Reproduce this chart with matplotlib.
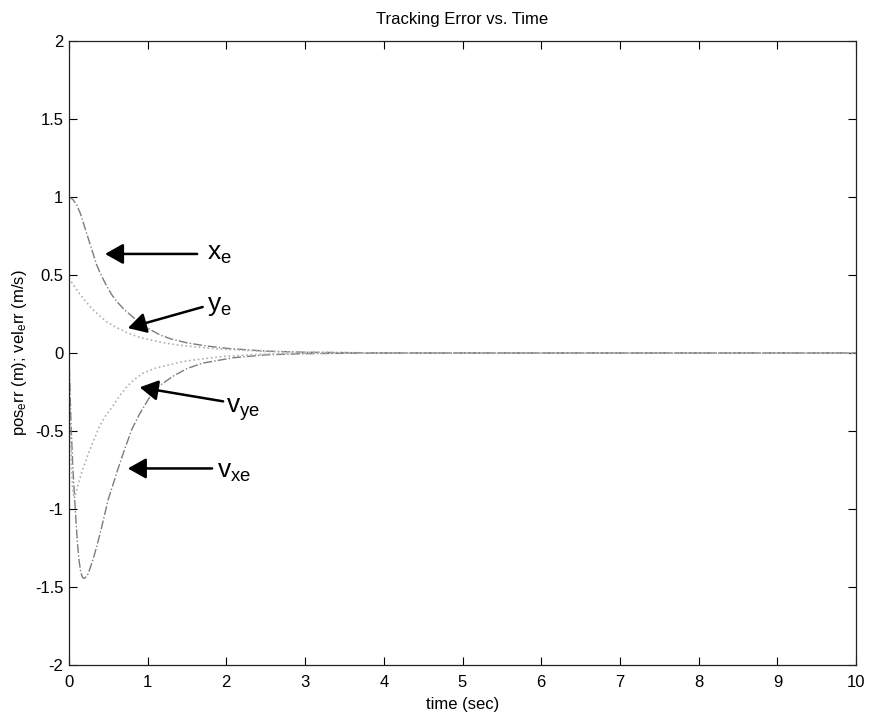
import numpy as np
import matplotlib
matplotlib.use("Agg")
import matplotlib.pyplot as plt

plt.rcParams['font.family'] = ['Liberation Sans', 'DejaVu Sans']
plt.rcParams['mathtext.fontset'] = 'custom'
plt.rcParams['mathtext.rm'] = 'Liberation Sans'
plt.rcParams['mathtext.it'] = 'Liberation Sans:italic'

# position errors (m)
t_xe = [0, 0.05, 0.10, 0.15, 0.20, 0.25, 0.30, 0.35, 0.40, 0.48, 0.55, 0.61, 0.70, 0.86,
        1.0, 1.16, 1.3, 1.5, 1.75, 2.0, 2.5, 3.0, 4.0, 10.0]
xe = [1.0, 0.985, 0.95, 0.89, 0.81, 0.73, 0.65, 0.57, 0.51, 0.43, 0.37, 0.33, 0.28, 0.21,
      0.16, 0.115, 0.09, 0.065, 0.045, 0.03, 0.012, 0.005, 0.0, 0.0]

t_ye = [0, 0.04, 0.10, 0.15, 0.20, 0.30, 0.40, 0.48, 0.60, 0.74, 0.90, 1.16, 1.4, 1.8,
        2.5, 3.0, 4.0, 10.0]
ye = [0.48, 0.45, 0.405, 0.37, 0.34, 0.28, 0.235, 0.20, 0.165, 0.13, 0.10, 0.07, 0.05, 0.03,
      0.01, 0.005, 0.0, 0.0]

# velocity errors (m/s)
t_vxe = [0, 0.01, 0.03, 0.05, 0.07, 0.09, 0.11, 0.13, 0.15, 0.17, 0.19, 0.21, 0.24, 0.27,
         0.31, 0.36, 0.42, 0.5, 0.62, 0.7, 0.8, 0.9, 1.03, 1.15, 1.32, 1.5, 1.7, 2.09,
         2.5, 3.0, 4.0, 10.0]
vxe = [0, -0.15, -0.48, -0.72, -0.90, -1.07, -1.22, -1.33, -1.40, -1.435, -1.445, -1.44,
       -1.42, -1.38, -1.32, -1.23, -1.11, -0.94, -0.75, -0.63, -0.49, -0.39, -0.28, -0.21,
       -0.15, -0.10, -0.065, -0.03, -0.012, -0.004, 0.0, 0.0]

t_vye = [0, 0.01, 0.02, 0.03, 0.04, 0.05, 0.06, 0.07, 0.09, 0.12, 0.16, 0.23, 0.30, 0.39,
         0.47, 0.56, 0.65, 0.73, 0.83, 0.94, 1.08, 1.24, 1.4, 1.58, 2.0, 2.5, 3.0, 4.0, 10.0]
vye = [0, -0.25, -0.47, -0.65, -0.78, -0.87, -0.91, -0.92, -0.90, -0.84, -0.77, -0.67,
       -0.58, -0.47, -0.40, -0.34, -0.27, -0.22, -0.17, -0.13, -0.10, -0.08, -0.06, -0.045,
       -0.02, -0.007, -0.002, 0.0, 0.0]

fig = plt.figure(figsize=(8.71, 7.14), dpi=100)
ax = fig.add_axes([0.079, 0.0686, 0.904, 0.874])

ax.plot(t_xe, xe, color='#7c7c7c', linestyle='-.', linewidth=1.0)
ax.plot(t_ye, ye, color='#b0b0b0', linestyle=':', linewidth=1.2)
ax.plot(t_vxe, vxe, color='#7c7c7c', linestyle='-.', linewidth=1.0)
ax.plot(t_vye, vye, color='#b0b0b0', linestyle=':', linewidth=1.2)

ax.set_xlim(0, 10)
ax.set_ylim(-2, 2)
ax.set_xticks(np.arange(0, 11, 1))
ax.set_yticks(np.arange(-2, 2.01, 0.5))
ax.set_yticklabels(['-2', '-1.5', '-1', '-0.5', '0', '0.5', '1', '1.5', '2'])
ax.tick_params(direction='in', top=True, right=True, labelsize=12, length=6)
ax.tick_params(axis='x', pad=7)
ax.tick_params(axis='y', pad=4)
for s in ax.spines.values():
    s.set_linewidth(0.9)
    s.set_color('#222222')

ax.set_title('Tracking Error vs. Time', fontsize=12, pad=12)
ax.set_xlabel('time (sec)', fontsize=12, labelpad=5)
ax.set_ylabel(r'pos$_{\mathrm{e}}$rr (m); vel$_{\mathrm{e}}$rr (m/s)', fontsize=12, labelpad=4)

# arrows pointing at each curve
arrowprops = dict(arrowstyle='-|>,head_length=1.1,head_width=0.62', color='black', lw=1.8,
                  shrinkA=0, shrinkB=0)
notes = [
    (r'x$_{\mathrm{e}}$', (0.46, 0.635), (1.63, 0.635), (1.76, 0.635)),
    (r'y$_{\mathrm{e}}$', (0.75, 0.16), (1.70, 0.295), (1.76, 0.30)),
    (r'v$_{\mathrm{ye}}$', (0.90, -0.22), (1.96, -0.31), (2.0, -0.36)),
    (r'v$_{\mathrm{xe}}$', (0.75, -0.74), (1.82, -0.74), (1.88, -0.76)),
]
for label, tip, tail, pos in notes:
    ax.annotate('', xy=tip, xytext=tail, arrowprops=arrowprops)
    ax.text(pos[0], pos[1], label, fontsize=19, ha='left', va='center')

fig.savefig('out.png', dpi=100)
